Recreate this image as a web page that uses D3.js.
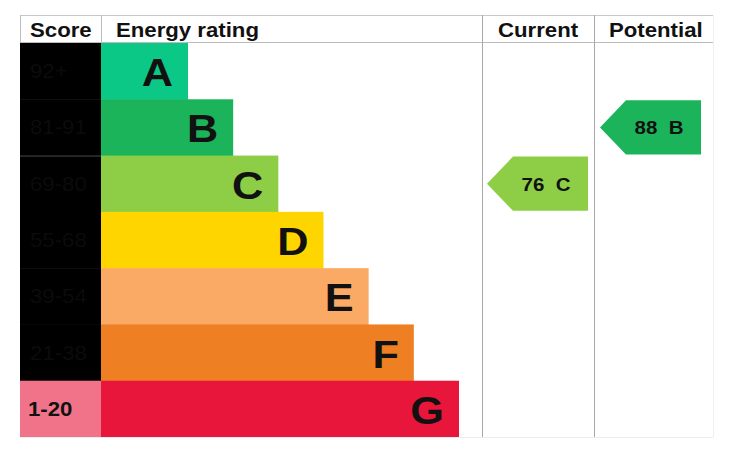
<!DOCTYPE html>
<html>
<head>
<meta charset="utf-8">
<script src="https://cdn.jsdelivr.net/npm/d3@7.9.0/dist/d3.min.js"></script>
<style>
  body { margin: 0; background: #fff; }
  svg { display: block; font-family: "Liberation Sans", Arial, sans-serif; }
</style>
</head>
<body>
<svg id="epc" width="736" height="456"></svg>
<script>
// ===== data =====
const bands = ['A', 'B', 'C', 'D', 'E', 'F', 'G'];
const scoreRanges = ['92+', '81-91', '69-80', '55-68', '39-54', '21-38', '1-20'];
const bandColors = ['#0cc886', '#1bb45a', '#8dce46', '#ffd500', '#fbaa65', '#ee8023', '#e8163b'];
const headers = ['Score', 'Energy rating', 'Current', 'Potential'];
const currentRating = { value: 76, band: 'C' };
const potentialRating = { value: 88, band: 'B' };

const svg = d3.select('#epc');

// the source picture is a little wider than tall, text gets stretched
const SX = 1.11;
const stretch = (x, yy) => `translate(${x},${yy}) scale(${SX},1)`;

// columns
const colScore = [20, 101], colRating = [101, 482], colCurrent = [482, 594], colPotential = [594, 713];
const topY = 15, headBottom = 43, bottomY = 437;

const y = d3.scaleBand().domain(bands).range([headBottom, bottomY]).padding(0);
// bar end grows by band index
const barEnd = d3.scaleLinear().domain([0, bands.length - 1]).range([188, 459]);

// ===== score column =====
svg.selectAll('rect.score')
  .data(bands)
  .join('rect')
  .attr('class', 'score')
  .attr('x', colScore[0])
  .attr('y', d => y(d))
  .attr('width', colScore[1] - colScore[0])
  .attr('height', y.bandwidth() + 0.5)
  .attr('fill', (d, i) => i === bands.length - 1 ? '#f0738a' : '#000');

svg.append('line')
  .attr('x1', colScore[0]).attr('x2', colScore[1])
  .attr('y1', y('C') + 0.5).attr('y2', y('C') + 0.5)
  .attr('stroke', '#4a4a4a').attr('stroke-width', 1);

svg.selectAll('text.range')
  .data(scoreRanges)
  .join('text')
  .attr('class', 'range')
  .attr('transform', (d, i) => stretch(i === bands.length - 1 ? 28 : 30, y(bands[i]) + y.bandwidth() / 2 + 7))
  .attr('font-size', 20)
  .attr('font-weight', (d, i) => i === bands.length - 1 ? 'bold' : 'normal')
  .attr('fill', (d, i) => i === bands.length - 1 ? '#111' : '#0b0b0b')
  .text(d => d);

// ===== rating bars =====
svg.selectAll('rect.bar')
  .data(bands)
  .join('rect')
  .attr('class', 'bar')
  .attr('x', colRating[0])
  .attr('y', d => y(d))
  .attr('width', (d, i) => barEnd(i) - colRating[0])
  .attr('height', y.bandwidth() + 0.5)
  .attr('fill', (d, i) => bandColors[i]);

svg.selectAll('text.band')
  .data(bands)
  .join('text')
  .attr('class', 'band')
  .attr('transform', (d, i) => stretch(barEnd(i) - 15, y(d) + y.bandwidth() / 2 + 15))
  .attr('text-anchor', 'end')
  .attr('font-size', 39)
  .attr('font-weight', 'bold')
  .attr('fill', '#111')
  .text(d => d);

// ===== grid lines =====
const gridColor = '#bcbcbc';
svg.append('line').attr('x1', colScore[0]).attr('x2', colPotential[1])
  .attr('y1', topY + 0.5).attr('y2', topY + 0.5).attr('stroke', '#c8c8c8');
svg.append('line').attr('x1', colScore[0]).attr('x2', colPotential[1])
  .attr('y1', headBottom - 0.5).attr('y2', headBottom - 0.5).attr('stroke', gridColor);
svg.append('line').attr('x1', colScore[0]).attr('x2', colPotential[1])
  .attr('y1', bottomY + 0.5).attr('y2', bottomY + 0.5).attr('stroke', '#ececec');
svg.append('line').attr('x1', colScore[0] + 0.5).attr('x2', colScore[0] + 0.5)
  .attr('y1', topY).attr('y2', headBottom).attr('stroke', gridColor);
svg.append('line').attr('x1', colRating[0] + 0.5).attr('x2', colRating[0] + 0.5)
  .attr('y1', topY).attr('y2', headBottom).attr('stroke', gridColor);
[colCurrent[0], colPotential[0]].forEach(x => {
  svg.append('line').attr('x1', x + 0.5).attr('x2', x + 0.5)
    .attr('y1', topY).attr('y2', bottomY).attr('stroke', '#a8a8a8');
});
svg.append('line').attr('x1', colPotential[1] + 0.5).attr('x2', colPotential[1] + 0.5)
  .attr('y1', topY).attr('y2', bottomY).attr('stroke', '#f0f0f0');

// ===== headers =====
const headX = [30, 116, 498, 609];
svg.selectAll('text.head')
  .data(headers)
  .join('text')
  .attr('class', 'head')
  .attr('transform', (d, i) => stretch(headX[i], 37))
  .attr('font-size', 20)
  .attr('font-weight', 'bold')
  .attr('fill', '#111')
  .text(d => d);

// ===== arrows =====
function arrow(rating, xTip) {
  const i = bands.indexOf(rating.band);
  const y0 = y(rating.band) + 1, y1 = y(rating.band) + y.bandwidth() - 1;
  const xBody = xTip + 26, xEnd = xTip + 101;
  const ym = (y0 + y1) / 2;
  const p = d3.path();
  p.moveTo(xTip, ym);
  p.lineTo(xBody, y0);
  p.lineTo(xEnd, y0);
  p.lineTo(xEnd, y1);
  p.lineTo(xBody, y1);
  p.closePath();
  svg.append('path').attr('d', p.toString()).attr('fill', bandColors[i]);
  svg.append('text')
    .attr('transform', stretch((xTip + xEnd) / 2 + 8.5, ym + 7))
    .attr('text-anchor', 'middle')
    .attr('font-size', 18.5)
    .attr('font-weight', 'bold')
    .attr('fill', '#111')
    .attr('xml:space', 'preserve')
    .style('white-space', 'pre')
    .text(`${rating.value}  ${rating.band}`);
}
arrow(currentRating, colCurrent[0] + 5);
arrow(potentialRating, colPotential[0] + 6);
</script>
</body>
</html>
